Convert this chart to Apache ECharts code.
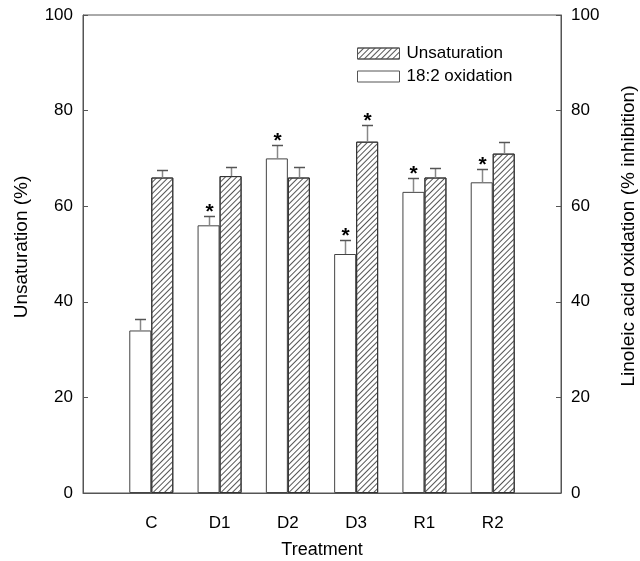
<!DOCTYPE html>
<html><head><meta charset="utf-8">
<script src="https://cdn.jsdelivr.net/npm/echarts@6/dist/echarts.min.js"></script>
<style>html,body{margin:0;padding:0;background:#fff}#c{width:640px;height:561px}</style>
</head><body><div id="c"></div>
<script>
const categories = ['C','D1','D2','D3','R1','R2'];
const oxidation = [34, 56, 70, 50, 63, 65];
const oxidationErr = [2.5, 2, 2.7, 3, 3, 2.7];
const oxidationStar = [0, 1, 1, 1, 1, 1];
const unsaturation = [66, 66.3, 66, 73.5, 66, 71];
const unsaturationErr = [1.5, 2, 2.3, 3.5, 2, 2.5];
const unsaturationStar = [0, 0, 0, 1, 0, 0];
const yTicks = [0, 20, 40, 60, 80, 100];

const FONT = 'Liberation Sans, Arial, sans-serif';
const axisCats = [''].concat(categories, ['']);
const BW = 22;

const oxData = oxidation.map((v, i) => [i + 1, v]);
const unData = unsaturation.map((v, i) => [i + 1, v]);
const oxErrData = oxidation.map((v, i) => [i + 1, v, oxidationErr[i], oxidationStar[i], -0.5]);
const unErrData = unsaturation.map((v, i) => [i + 1, v, unsaturationErr[i], unsaturationStar[i], 0.5]);

function renderErr(params, api) {
  const x = api.value(0), v = api.value(1), e = api.value(2), star = api.value(3), side = api.value(4);
  const base = api.coord([x, v]);
  const top = api.coord([x, v + e]);
  const cx = Math.round(base[0] + side * BW) + 0.5;
  const ty = Math.round(top[1]) + 0.5;
  const children = [
    { type: 'line', shape: { x1: cx, y1: base[1], x2: cx, y2: ty }, style: { stroke: '#888', lineWidth: 1.5 } },
    { type: 'line', shape: { x1: cx - 5.5, y1: ty, x2: cx + 5.5, y2: ty }, style: { stroke: '#555', lineWidth: 1.5 } }
  ];
  if (star) {
    children.push({ type: 'text', style: { x: cx, y: ty - 4, text: '*', fill: '#000', font: 'bold 21px ' + FONT, textAlign: 'center', textVerticalAlign: 'middle' } });
  }
  return { type: 'group', children: children };
}

const yAxisCommon = {
  type: 'value', min: 0, max: 100, interval: 20,
  axisLine: { show: true, lineStyle: { color: '#555', width: 1 } },
  axisTick: { show: true, inside: true, length: 5, lineStyle: { color: '#555' } },
  splitLine: { show: false },
  axisLabel: { color: '#000', fontSize: 17, fontFamily: FONT, margin: 10 },
  nameLocation: 'middle'
};

const chart = echarts.init(document.getElementById('c'), null, { renderer: 'canvas' });
chart.setOption({
  animation: false,
  backgroundColor: '#fff',
  grid: { left: 83, right: 79, top: 15, bottom: 68, show: true, borderColor: '#555', borderWidth: 1,
    containLabel: false, outerBoundsMode: 'none' },
  legend: {
    orient: 'vertical', left: 352, top: 40, itemWidth: 42, itemHeight: 11, itemGap: 6,
    icon: 'rect',
    itemStyle: { borderWidth: 1, borderColor: '#555' },
    data: ['Unsaturation', '18:2 oxidation'],
    textStyle: { color: '#000', fontSize: 17, fontFamily: FONT, padding: [0, 0, 0, 2] }
  },
  xAxis: {
    type: 'category', data: axisCats, boundaryGap: false,
    axisLine: { show: true, lineStyle: { color: '#555' } },
    axisTick: { show: false },
    axisLabel: { color: '#000', fontSize: 17, fontFamily: FONT, margin: 22, interval: 0 },
    name: 'Treatment', nameLocation: 'middle', nameGap: 48,
    nameTextStyle: { color: '#000', fontSize: 18, fontFamily: FONT }
  },
  yAxis: [
    Object.assign({}, yAxisCommon, { position: 'left', name: 'Unsaturation (%)', nameGap: 52,
      nameTextStyle: { color: '#000', fontSize: 19, fontFamily: FONT, padding: [0, 0, 0, 14] } }),
    Object.assign({}, yAxisCommon, { position: 'right', name: 'Linoleic acid oxidation (% inhibition)', nameGap: 58, nameRotate: 90,
      nameTextStyle: { color: '#000', fontSize: 19, fontFamily: FONT, padding: [0, 0, 0, 36] } })
  ],
  series: [
    {
      name: '18:2 oxidation', type: 'bar', yAxisIndex: 1, data: oxData, barWidth: BW, barGap: '0%',
      itemStyle: { color: '#fff', borderColor: '#444', borderWidth: 1 }
    },
    {
      name: 'Unsaturation', type: 'bar', yAxisIndex: 0, data: unData, barWidth: BW, barGap: '0%',
      itemStyle: {
        color: '#fff', borderColor: '#333', borderWidth: 1,
        decal: { symbol: 'rect', symbolSize: 1, color: '#555', dashArrayX: [1, 0], dashArrayY: [1, 3], rotation: -Math.PI / 4 }
      }
    },
    { type: 'custom', yAxisIndex: 1, data: oxErrData, renderItem: renderErr, encode: { x: 0, y: 1 }, z: 5, silent: true },
    { type: 'custom', yAxisIndex: 0, data: unErrData, renderItem: renderErr, encode: { x: 0, y: 1 }, z: 5, silent: true }
  ]
});
</script></body></html>
